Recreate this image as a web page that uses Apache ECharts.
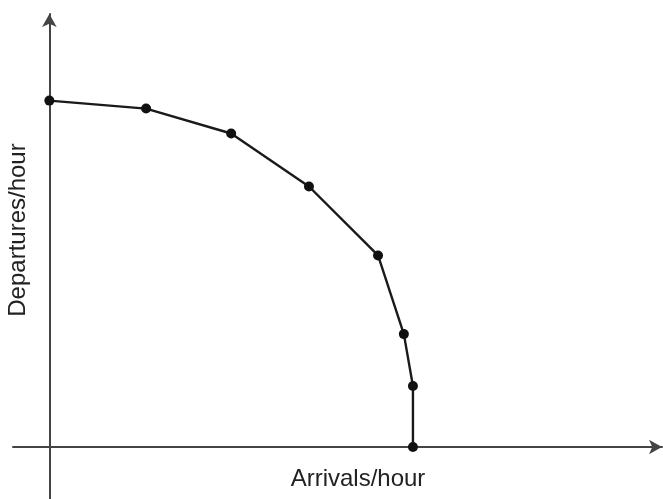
<!DOCTYPE html>
<html>
<head>
<meta charset="utf-8">
<script src="https://cdn.jsdelivr.net/npm/echarts@6/dist/echarts.min.js"></script>
<style>
  html, body { margin: 0; padding: 0; background: #fff; }
  #chart { width: 663px; height: 499px; }
</style>
</head>
<body>
<div id="chart"></div>
<script>
// Runway capacity envelope: arrivals vs departures per hour
const arrivals   = [0, 2.66, 5.0, 7.14, 9.04, 9.75, 10.0, 10.0];
const departures = [10.0, 9.77, 9.05, 7.52, 5.53, 3.26, 1.76, 0];
const xTitle = 'Arrivals/hour';
const yTitle = 'Departures/hour';

const points = arrivals.map((a, i) => [a, departures[i]]);
const titleFont = '24px "Liberation Sans", Arial, sans-serif';

const chart = echarts.init(document.getElementById('chart'));
chart.setOption({
  animation: false,
  backgroundColor: '#fff',
  grid: { left: 13, right: 1, top: 14, bottom: 0 },
  xAxis: {
    type: 'value', min: -1, max: 16.85,
    axisLine: {
      onZero: true,
      lineStyle: { color: '#444', width: 2 },
      symbol: ['none', 'arrow'], symbolSize: [11, 13]
    },
    axisTick: { show: false }, axisLabel: { show: false }, splitLine: { show: false }
  },
  yAxis: {
    type: 'value', min: -1.5, max: 12.5,
    axisLine: {
      onZero: true,
      lineStyle: { color: '#444', width: 2 },
      symbol: ['none', 'arrow'], symbolSize: [11, 13]
    },
    axisTick: { show: false }, axisLabel: { show: false }, splitLine: { show: false }
  },
  graphic: [
    { type: 'text', x: 358, y: 479,
      style: { text: xTitle, font: titleFont, fill: '#222',
               align: 'center', verticalAlign: 'middle' } },
    { type: 'text', x: 18, y: 230, rotation: Math.PI / 2,
      style: { text: yTitle, font: titleFont, fill: '#222',
               align: 'center', verticalAlign: 'middle' } }
  ],
  series: [{
    type: 'line',
    data: points,
    symbol: 'circle', symbolSize: 10,
    itemStyle: { color: '#111' },
    lineStyle: { color: '#1a1a1a', width: 2.4 }
  }]
});
</script>
</body>
</html>
